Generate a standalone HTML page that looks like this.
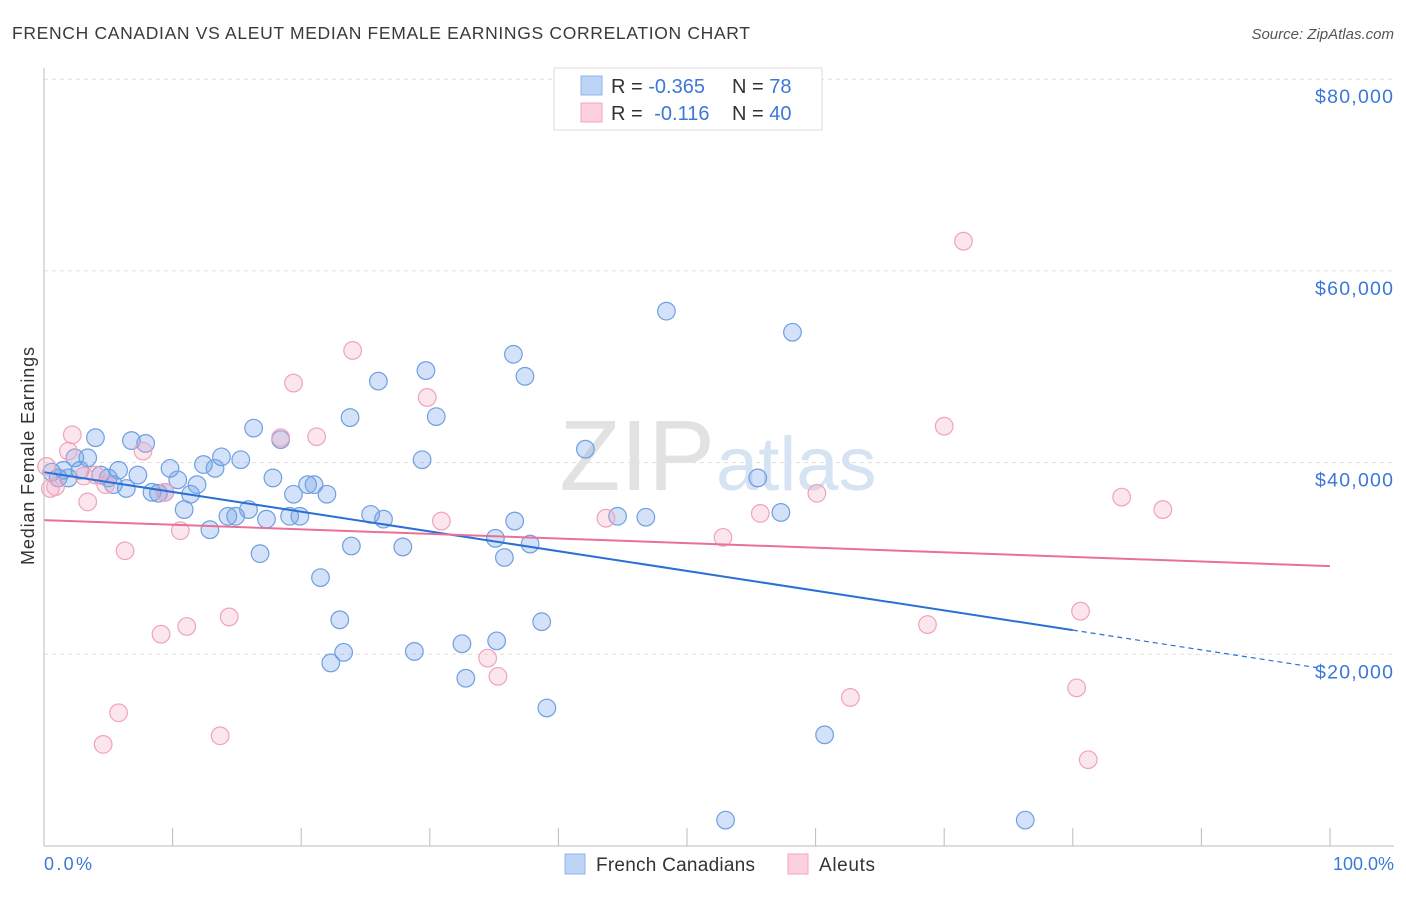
<!DOCTYPE html>
<html><head><meta charset="utf-8"><style>
body{margin:0;background:#fff;font-family:"Liberation Sans",sans-serif;}
svg text{font-family:"Liberation Sans",sans-serif;}
</style></head><body>
<svg width="1406" height="892" xmlns="http://www.w3.org/2000/svg">
<text x="12" y="39" font-size="17.5" fill="#3a3a3a" textLength="738" lengthAdjust="spacing">FRENCH CANADIAN VS ALEUT MEDIAN FEMALE EARNINGS CORRELATION CHART</text>
<text x="1394" y="39" font-size="15" fill="#555" font-style="italic" text-anchor="end">Source: ZipAtlas.com</text>
<g id="grid"></g>
<text x="715" y="490" font-size="100" fill="#e2e2e2" text-anchor="end" font-family="Liberation Serif">ZIP</text>
<text x="716" y="490" font-size="76" fill="#d6e3f3">atlas</text>
<g id="pts"></g>
<g id="lines"></g>
<line x1="44" y1="68" x2="44" y2="846" stroke="#bbb"/>
<line x1="44" y1="846" x2="1394" y2="846" stroke="#bbb"/>
<g id="xt"></g>
<text x="44" y="870" font-size="18" fill="#3b78d8" textLength="48">0.0%</text>
<text x="1394" y="870" font-size="18" fill="#3b78d8" text-anchor="end">100.0%</text>
<text transform="translate(34,456) rotate(-90)" font-size="18" fill="#333" text-anchor="middle" textLength="218">Median Female Earnings</text>
<g>
<rect x="554" y="68" width="268" height="62" fill="#fff" stroke="#ddd"/>
<rect x="581" y="76" width="21" height="19" fill="#bcd4f5" stroke="#8fb3e8"/>
<rect x="581" y="103" width="21" height="19" fill="#fcd0dc" stroke="#f3a9bf"/>
<text x="611" y="93" font-size="20" fill="#333">R = <tspan fill="#3b78d8">-0.365</tspan></text>
<text x="732" y="93" font-size="20" fill="#333">N = <tspan fill="#3b78d8"> 78</tspan></text>
<text x="611" y="120" font-size="20" fill="#333">R = <tspan fill="#3b78d8" dx="6">-0.116</tspan></text>
<text x="732" y="120" font-size="20" fill="#333">N = <tspan fill="#3b78d8">40</tspan></text>
</g>
<g>
<rect x="565" y="854" width="20" height="20" fill="#bcd4f5" stroke="#8fb3e8"/>
<text x="596" y="871" font-size="19" fill="#333" textLength="159">French Canadians</text>
<rect x="788" y="854" width="20" height="20" fill="#fcd0dc" stroke="#f3a9bf"/>
<text x="819" y="871" font-size="19" fill="#333" textLength="56">Aleuts</text>
</g>
</svg>
<script>
const yTicks=[20000,40000,60000,80000];
const yTickLabels=["$20,000","$40,000","$60,000","$80,000"];
const xTicks=[0,10,20,30,40,50,60,70,80,90,100];
const blueX=[0.6,1.1,1.5,1.9,2.4,2.8,3.4,4.0,4.4,5.0,5.4,5.8,6.4,6.8,7.3,7.9,8.4,8.9,9.4,9.8,10.4,10.9,11.4,11.9,12.4,12.9,13.3,13.8,14.3,14.9,15.3,15.9,16.3,16.8,17.3,17.8,18.4,19.1,19.4,19.9,20.5,21.0,21.5,22.0,22.3,23.0,23.3,23.8,23.9,25.4,26.0,26.4,27.9,28.8,29.4,29.7,30.5,32.5,32.8,35.1,35.2,35.8,36.5,36.6,37.4,37.8,38.7,39.1,42.1,44.6,46.8,48.4,53.0,55.5,57.3,58.2,60.7,76.3];
const blueY=[39000,38400,39200,38400,40500,39200,40500,42600,38700,38400,37700,39200,37300,42300,38700,42000,36900,36800,36900,39400,38200,35100,36700,37700,39800,33000,39400,40600,34400,34400,40300,35100,43600,30500,34100,38400,42400,34400,36700,34400,37700,37700,28000,36700,19100,23600,20200,44700,31300,34600,48500,34100,31200,20300,40300,49600,44800,21100,17500,32100,21400,30100,51300,33900,49000,31500,23400,14400,41400,34400,34300,55800,2700,38400,34800,53600,11600,2700];
const pinkX=[0.2,0.5,0.9,1.9,2.2,3.1,3.4,4.0,4.6,4.8,5.8,6.3,7.7,9.1,9.4,10.6,11.1,13.7,14.4,18.4,19.4,21.2,24.0,29.8,30.9,34.5,35.3,43.7,52.8,55.7,60.1,62.7,68.7,70.0,71.5,80.3,80.6,81.2,83.8,87.0];
const pinkY=[39600,37300,37500,41200,42900,38600,35900,38700,10600,37700,13900,30800,41200,22100,36900,32900,22900,11500,23900,42600,48300,42700,51700,46800,33900,19600,17700,34200,32200,34700,36800,15500,23100,43800,63100,16500,24500,9000,36400,35100];
const blueTrend=[39000,18400];
const pinkTrend=[34000,29200];
const NS="http://www.w3.org/2000/svg";
const X=v=>44+v*12.86;
const Y=v=>846-v*191.7/20000;
function mk(t,a,p){const e=document.createElementNS(NS,t);for(const k in a)e.setAttribute(k,a[k]);p.appendChild(e);return e;}
const grid=document.getElementById('grid');
yTicks.forEach((t,i)=>{
 const l=mk('line',{x1:44,x2:1394,y1:Y(t),y2:Y(t),stroke:'#ddd','stroke-dasharray':'4,4'},grid);
 
 
 const tx=mk('text',{x:1393,y:Y(t)+24,'font-size':19.5,fill:'#3b78d8','text-anchor':'end',textLength:78},grid);
 tx.textContent=yTickLabels[i];
 
 
});
const xt=document.getElementById('xt');
xTicks.forEach(t=>{
 const l=mk('line',{x1:X(t),x2:X(t),y1:828,y2:846,stroke:'#bbb'},xt);
 
 
});
const pts=document.getElementById('pts');
blueX.forEach((x,i)=>{
 const c=mk('circle',{cx:X(x),cy:Y(blueY[i]),r:8.8,fill:'rgba(110,160,232,0.3)',stroke:'#6f9fe0','stroke-width':1.2},pts);
 
 
});
pinkX.forEach((x,i)=>{
 const c=mk('circle',{cx:X(x),cy:Y(pinkY[i]),r:8.8,fill:'rgba(245,165,190,0.28)',stroke:'#f0a3bb','stroke-width':1.2},pts);
 
 
});
const ln=document.getElementById('lines');
const bAt=x=>blueTrend[0]+(blueTrend[1]-blueTrend[0])*x/100;
let l1=mk('line',{x1:X(0),y1:Y(bAt(0)),x2:X(80),y2:Y(bAt(80)),stroke:'#2a6fd6','stroke-width':2},ln);


let l2=mk('line',{x1:X(80),y1:Y(bAt(80)),x2:X(99),y2:Y(bAt(99)),stroke:'#2a6fd6','stroke-width':1.2,'stroke-dasharray':'5,4'},ln);


let l3=mk('line',{x1:X(0),y1:Y(pinkTrend[0]),x2:X(100),y2:Y(pinkTrend[1]),stroke:'#e8709a','stroke-width':2},ln);


</script>
</body></html>
